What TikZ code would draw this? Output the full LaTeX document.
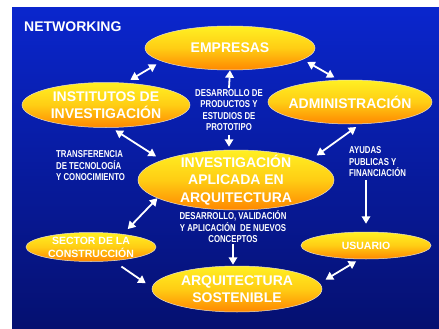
\documentclass[tikz,border=0pt]{standalone}
\usepackage{fontspec}
\setmainfont{Liberation Sans}
\newfontfamily\narrowsans[FakeStretch=0.78]{Liberation Sans}
\usetikzlibrary{shapes.geometric,arrows.meta}

\definecolor{bgtop}{RGB}{10,38,205}
\definecolor{bgbot}{RGB}{5,16,112}
\definecolor{ovtop}{RGB}{255,240,35}
\definecolor{ovmid}{RGB}{255,205,20}
\definecolor{ovbot}{RGB}{255,135,0}
\definecolor{ovrim}{RGB}{235,225,200}

\tikzset{
  oval/.style={ellipse, inner sep=-6pt, top color=ovtop, bottom color=ovbot,
    middle color=ovmid, draw=ovrim, line width=0.5pt, text=white,
    font=\bfseries\fontsize{14}{17.5}\selectfont, align=center},
  smalloval/.style={oval, font=\bfseries\fontsize{10.5}{13}\selectfont},
  note/.style={text=white, font=\narrowsans\bfseries\fontsize{10}{11.5}\selectfont, inner sep=1pt},
  link/.style={draw=white, line width=1.8pt, -{Triangle[length=7.5pt,width=8.5pt]}},
  twoway/.style={draw=white, line width=1.8pt,
    {Triangle[length=7.5pt,width=8.5pt]}-{Triangle[length=7.5pt,width=8.5pt]}},
}

\begin{document}
\begin{tikzpicture}[x=1pt,y=-1pt]
  \useasboundingbox (0,0) rectangle (439,329);
  \fill[white] (0,0) rectangle (439,329);
  \shade[top color=bgtop, bottom color=bgbot] (12,8) rectangle (439,329);

  % title
  \node[anchor=west, text=white, font=\bfseries\fontsize{14}{17}\selectfont, inner sep=0pt]
    (title) at (24,27) {NETWORKING};

  % actors
  \node[oval, minimum width=170pt, minimum height=44pt] (emp) at (230,48) {EMPRESAS};
  \node[oval, minimum width=168pt, minimum height=45pt] (inst) at (106,105) {INSTITUTOS DE\\INVESTIGACIÓN};
  \node[oval, minimum width=164pt, minimum height=44pt] (adm) at (350,102) {ADMINISTRACIÓN};
  \node[oval, minimum width=196pt, minimum height=60pt] (inv) at (236,180) {INVESTIGACIÓN\\APLICADA EN\\ARQUITECTURA};
  \node[smalloval, minimum width=130pt, minimum height=29pt] (sec) at (91,247) {SECTOR DE LA\\CONSTRUCCIÓN};
  \node[smalloval, minimum width=130pt, minimum height=27pt] (usu) at (366,245.5) {USUARIO};
  \node[oval, minimum width=170pt, minimum height=46pt] (arq) at (237,289) {ARQUITECTURA\\SOSTENIBLE};

  % relation labels
  \node[note, align=center] (dprod) at (229,110) {DESARROLLO DE\\PRODUCTOS Y\\ESTUDIOS DE\\PROTOTIPO};
  \node[note, align=left, anchor=west] (transf) at (55,166) {TRANSFERENCIA\\DE TECNOLOGÍA\\Y CONOCIMIENTO};
  \node[note, align=left, anchor=west] (ayud) at (348,162) {AYUDAS\\PUBLICAS Y\\FINANCIACIÓN};
  \node[note, align=center] (dval) at (233,227) {DESARROLLO, VALIDACIÓN\\Y APLICACIÓN\ \ DE NUEVOS\\CONCEPTOS};

  % connectors
  \draw[twoway, shorten <=6pt, shorten >=6pt] (emp.191) -- (inst.49);
  \draw[twoway, shorten <=5pt, shorten >=5pt] (emp.-9) -- (adm.117);
  \draw[link] (dprod.north) -- (emp.south);
  \draw[link, shorten <=3pt, shorten >=3pt] (dprod.south) -- (dprod.south |- inv.north);
  \draw[twoway, shorten <=5pt, shorten >=7pt] (inst.-77) -- (inv.165);
  \draw[twoway, shorten <=5pt, shorten >=8pt] (adm.-65) -- (inv.15);
  \draw[link, shorten <=2pt, shorten >=8pt] (ayud.south -| usu.north) -- (usu.north);
  \draw[twoway, shorten >=7pt] (inv.193) -- (sec.22);
  \draw[link, shorten >=1pt] (dval.south) -- (dval.south |- arq.north);
  \draw[link, shorten <=10pt, shorten >=7.5pt] (sec.-32) -- (arq.179);
  \draw[twoway, shorten <=4pt, shorten >=7pt] (usu.245) -- (arq.4);
\end{tikzpicture}
\end{document}
